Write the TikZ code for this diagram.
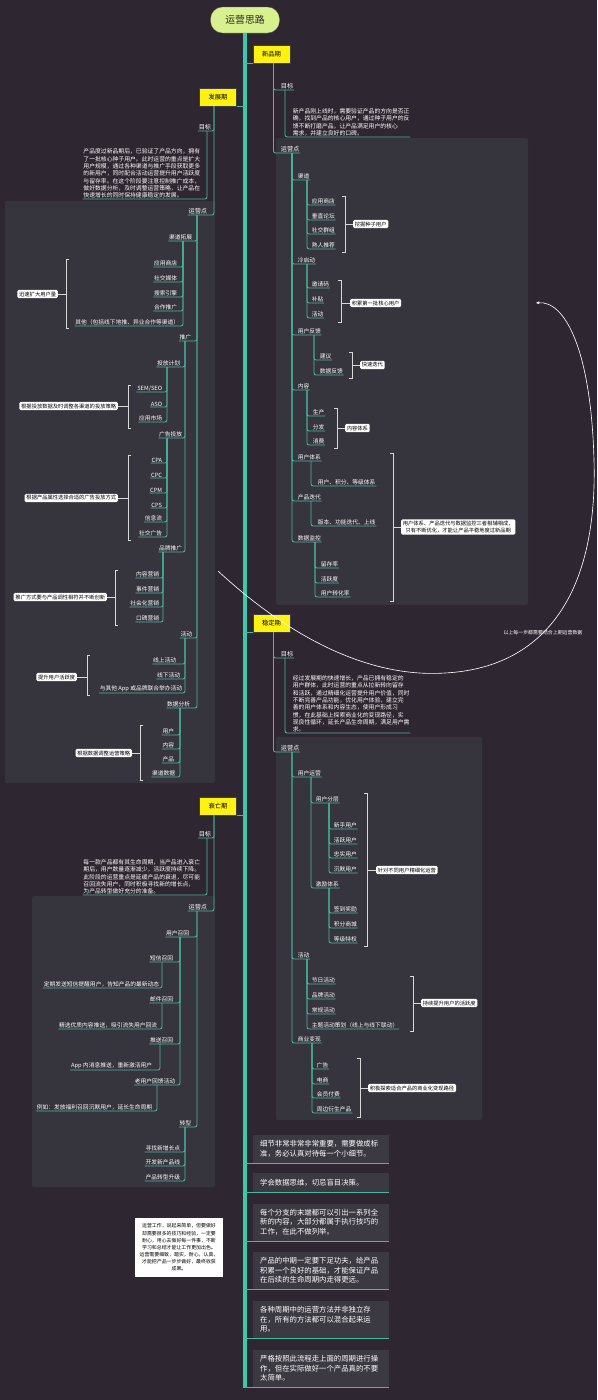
\documentclass[tikz,border=0pt]{standalone}
\usepackage{fontspec}
\setmainfont{Noto Sans CJK SC}
\usetikzlibrary{positioning,arrows.meta}
\definecolor{bgdark}{HTML}{2E2631}
\definecolor{panelgray}{HTML}{36353D}
\definecolor{notegray}{HTML}{3B3A43}
\definecolor{trunkteal}{HTML}{3DC7AB}
\definecolor{linkteal}{HTML}{48B9A1}
\definecolor{stageyellow}{HTML}{FFF212}
\definecolor{titlegreen}{HTML}{D6F18E}
\tikzset{
  stage/.style={draw=black!75, fill=stageyellow, text=black, font=\fontsize{9}{10}\selectfont, minimum width=1.85cm, minimum height=0.9cm, inner sep=1pt},
  lblr/.style={text=white, font=\fontsize{8.2}{9.5}\selectfont, inner sep=1pt, anchor=south west},
  lbll/.style={lblr, anchor=south east},
  headr/.style={lblr, font=\fontsize{8.8}{10}\selectfont},
  headl/.style={lbll, font=\fontsize{8.8}{10}\selectfont},
  parar/.style={lblr, align=left, font=\fontsize{8.3}{10.4}\selectfont},
  paral/.style={lbll, align=left, font=\fontsize{8.3}{10.4}\selectfont},
  callout/.style={fill=white, text=black, rounded corners=2pt, font=\fontsize{7.5}{9.5}\selectfont, inner sep=2.5pt, align=center},
  branch/.style={draw=linkteal, line width=1.2pt, rounded corners=3pt},
  bracket/.style={draw=white!85!black, line width=0.8pt},
  panel/.style={fill=panelgray, rounded corners=3pt},
  tipnote/.style={fill=notegray, text=white, align=left, font=\fontsize{10.5}{13}\selectfont, text width=6.1cm, inner xsep=0.35cm, inner ysep=0.3cm, anchor=south west},
  memo/.style={fill=white, text=black, align=center, font=\fontsize{7}{10.2}\selectfont, minimum width=4.4cm, minimum height=2.95cm, inner sep=2pt}
}

\begin{document}
\begin{tikzpicture}[x=0.05cm, y=-0.05cm]
  \fill[bgdark] (0,0) rectangle (597,1400);
  \useasboundingbox (0,0) rectangle (597,1400);

  \fill[panel] (276,138) rectangle (528,605);
  \fill[panel] (5,201) rectangle (215,783);
  \fill[panel] (276,737) rectangle (482,1120);
  \fill[panel] (32,896) rectangle (215,1187);

  \node[draw=black!60, fill=titlegreen, rounded corners=0.6cm, minimum width=3.45cm, minimum height=1.3cm, font=\fontsize{14}{16}\selectfont, text=black!85] (title) at (245,20) {运营思路};
  \coordinate (trunkend) at (245,1388);
  \draw[trunkteal, line width=5pt] (title.south) -- (trunkend);

  % 新品期
  \node[stage] (newp) at (271.5,54) {新品期};
  \draw[branch] (newp.south west) -- (newp.south west -| trunkend);
  \node[headr] (n1goal) at (280,90) {目标};
  \node[parar] (n1text) at (292,137) {新产品刚上线时，需要验证产品的方向是否正\\确，找到产品的核心用户，通过种子用户的反\\馈不断打磨产品，让产品满足用户的核心\\需求，并建立良好的口碑。};
  \node[headr] (n1ops) at (280,153) {运营点};
  \draw[branch] ([shift={(2,0)}]newp.south) |- (n1goal.south east);
  \draw[branch] ([shift={(2,0)}]newp.south) |- (n1ops.south east);
  \draw[branch] ([shift={(5,0)}]n1goal.south west) |- (n1text.south east);

  \node[lblr] (n1ch) at (297,180) {渠道};
  \node[lblr] (n1ch1) at (311,205) {应用商店};
  \node[lblr] (n1ch2) at (311,220) {垂直论坛};
  \node[lblr] (n1ch3) at (311,234) {社交群组};
  \node[lblr] (n1ch4) at (311,249) {熟人推荐};
  \node[callout, anchor=west] (n1chk) at (353,224) {挖掘种子用户};
  \draw[branch] ([shift={(12,0)}]n1ops.south west) |- (n1ch.south east);
  \draw[branch] ([shift={(10,0)}]n1ch.south west) |- (n1ch1.south east);
  \draw[branch] ([shift={(10,0)}]n1ch.south west) |- (n1ch2.south east);
  \draw[branch] ([shift={(10,0)}]n1ch.south west) |- (n1ch3.south east);
  \draw[branch] ([shift={(10,0)}]n1ch.south west) |- (n1ch4.south east);
  \draw[bracket] (342,196) -- (345,196) -- (345,252) -- (342,252);
  \draw[bracket] (345,224) -- (n1chk.west);

  \node[lblr] (n1cold) at (297,264) {冷启动};
  \node[lblr] (n1cold1) at (311,288) {邀请码};
  \node[lblr] (n1cold2) at (311,303) {补贴};
  \node[lblr] (n1cold3) at (311,318) {活动};
  \node[callout, anchor=west] (n1coldk) at (350,303) {积累第一批核心用户};
  \draw[branch] ([shift={(12,0)}]n1ops.south west) |- (n1cold.south east);
  \draw[branch] ([shift={(10,0)}]n1cold.south west) |- (n1cold1.south east);
  \draw[branch] ([shift={(10,0)}]n1cold.south west) |- (n1cold2.south east);
  \draw[branch] ([shift={(10,0)}]n1cold.south west) |- (n1cold3.south east);
  \draw[bracket] (338,280) -- (341,280) -- (341,322) -- (338,322);
  \draw[bracket] (341,303) -- (n1coldk.west);

  \node[lblr] (n1fb) at (297,335) {用户反馈};
  \node[lblr] (n1fb1) at (319,360) {建议};
  \node[lblr] (n1fb2) at (319,375) {数据反馈};
  \node[callout, anchor=west] (n1fbk) at (360,365) {快速迭代};
  \draw[branch] ([shift={(12,0)}]n1ops.south west) |- (n1fb.south east);
  \draw[branch] ([shift={(17,0)}]n1fb.south west) |- (n1fb1.south east);
  \draw[branch] ([shift={(17,0)}]n1fb.south west) |- (n1fb2.south east);
  \draw[bracket] (349,352) -- (352,352) -- (352,378) -- (349,378);
  \draw[bracket] (352,365) -- (n1fbk.west);

  \node[lblr] (n1ct) at (297,390) {内容};
  \node[lblr] (n1ct1) at (312,416) {生产};
  \node[lblr] (n1ct2) at (312,431) {分发};
  \node[lblr] (n1ct3) at (312,445) {消费};
  \node[callout, anchor=west] (n1ctk) at (345,428) {内容体系};
  \draw[branch] ([shift={(12,0)}]n1ops.south west) |- (n1ct.south east);
  \draw[branch] ([shift={(10,0)}]n1ct.south west) |- (n1ct1.south east);
  \draw[branch] ([shift={(10,0)}]n1ct.south west) |- (n1ct2.south east);
  \draw[branch] ([shift={(10,0)}]n1ct.south west) |- (n1ct3.south east);
  \draw[bracket] (334,408) -- (337,408) -- (337,448) -- (334,448);
  \draw[bracket] (337,428) -- (n1ctk.west);

  \node[lblr] (n1sys) at (297,461) {用户体系};
  \node[lblr] (n1sys1) at (317,486) {用户、积分、等级体系};
  \draw[branch] ([shift={(12,0)}]n1ops.south west) |- (n1sys.south east);
  \draw[branch] ([shift={(14,0)}]n1sys.south west) |- (n1sys1.south east);

  \node[lblr] (n1it) at (297,501) {产品迭代};
  \node[lblr] (n1it1) at (317,526) {版本、功能迭代、上线};
  \draw[branch] ([shift={(12,0)}]n1ops.south west) |- (n1it.south east);
  \draw[branch] ([shift={(14,0)}]n1it.south west) |- (n1it1.south east);

  \node[lblr] (n1dm) at (297,542) {数据监控};
  \node[lblr] (n1dm1) at (320,568) {留存率};
  \node[lblr] (n1dm2) at (320,583) {活跃度};
  \node[lblr] (n1dm3) at (320,597) {用户转化率};
  \draw[branch] ([shift={(12,0)}]n1ops.south west) |- (n1dm.south east);
  \draw[branch] ([shift={(18,0)}]n1dm.south west) |- (n1dm1.south east);
  \draw[branch] ([shift={(18,0)}]n1dm.south west) |- (n1dm2.south east);
  \draw[branch] ([shift={(18,0)}]n1dm.south west) |- (n1dm3.south east);

  \node[callout, anchor=west] (n1bigk) at (401,527) {用户体系、产品迭代与数据监控三者相辅相成，\\只有不断优化，才能让产品平稳地度过新品期};
  \draw[bracket] (390,453) -- (393,453) -- (393,601) -- (390,601);
  \draw[bracket] (393,527) -- (n1bigk.west);

  % 发展期
  \node[stage] (grow) at (218,97) {发展期};
  \draw[branch] (grow.south east) -- (grow.south east -| trunkend);
  \node[headl] (n2goal) at (212,131) {目标};
  \node[paral] (n2text) at (201,199) {产品度过新品期后，已验证了产品方向，拥有\\了一批核心种子用户。此时运营的重点是扩大\\用户规模，通过各种渠道与推广手段获取更多\\的新用户，同时配合活动运营提升用户活跃度\\与留存率。在这个阶段要注意控制推广成本，\\做好数据分析，及时调整运营策略，让产品在\\快速增长的同时保持健康稳定的发展。};
  \node[headl] (n2ops) at (208,215) {运营点};
  \draw[branch] ([shift={(-4,0)}]grow.south) |- (n2goal.south west);
  \draw[branch] ([shift={(-4,0)}]grow.south) |- (n2ops.south west);
  \draw[branch] ([shift={(-5,0)}]n2goal.south east) |- (n2text.south west);

  \node[lbll] (n2ch) at (193,241) {渠道拓展};
  \node[lbll] (n2ch1) at (178,267) {应用商店};
  \node[lbll] (n2ch2) at (178,282) {社交媒体};
  \node[lbll] (n2ch3) at (178,297) {搜索引擎};
  \node[lbll] (n2ch4) at (178,311) {合作推广};
  \node[lbll] (n2ch5) at (180,326) {其他（包括线下地推、异业合作等渠道）};
  \node[callout, anchor=east] (n2chk) at (58,294) {迅速扩大用户量};
  \draw[branch] ([shift={(-11,0)}]n2ops.south east) |- (n2ch.south west);
  \draw[branch] ([shift={(-10,0)}]n2ch.south east) |- (n2ch1.south west);
  \draw[branch] ([shift={(-10,0)}]n2ch.south east) |- (n2ch2.south west);
  \draw[branch] ([shift={(-10,0)}]n2ch.south east) |- (n2ch3.south west);
  \draw[branch] ([shift={(-10,0)}]n2ch.south east) |- (n2ch4.south west);
  \draw[branch] ([shift={(-10,0)}]n2ch.south east) |- (n2ch5.south west);
  \draw[bracket] (69,259) -- (66,259) -- (66,328) -- (69,328);
  \draw[bracket] (66,294) -- (n2chk.east);

  \node[lbll] (n2pro) at (192,341) {推广};
  \draw[branch] ([shift={(-11,0)}]n2ops.south east) |- (n2pro.south west);
  \node[lbll] (n2plan) at (181,367) {投放计划};
  \node[lbll] (n2plan1) at (163,392) {SEM/SEO};
  \node[lbll] (n2plan2) at (163,407) {ASO};
  \node[lbll] (n2plan3) at (163,422) {应用市场};
  \node[callout, anchor=east] (n2plank) at (118,406) {根据投放数据及时调整各渠道的投放策略};
  \draw[branch] ([shift={(-7,0)}]n2pro.south east) |- (n2plan.south west);
  \draw[branch] ([shift={(-14,0)}]n2plan.south east) |- (n2plan1.south west);
  \draw[branch] ([shift={(-14,0)}]n2plan.south east) |- (n2plan2.south west);
  \draw[branch] ([shift={(-14,0)}]n2plan.south east) |- (n2plan3.south west);
  \draw[bracket] (131,385) -- (128,385) -- (128,428) -- (131,428);
  \draw[bracket] (128,406) -- (n2plank.east);

  \node[lbll] (n2ad) at (183,438) {广告投放};
  \node[lbll] (n2ad1) at (163,463) {CPA};
  \node[lbll] (n2ad2) at (163,478) {CPC};
  \node[lbll] (n2ad3) at (163,493) {CPM};
  \node[lbll] (n2ad4) at (163,508) {CPS};
  \node[lbll] (n2ad5) at (163,522) {信息流};
  \node[lbll] (n2ad6) at (163,537) {社交广告};
  \node[callout, anchor=east] (n2adk) at (118,498) {根据产品属性选择合适的广告投放方式};
  \draw[branch] ([shift={(-7,0)}]n2pro.south east) |- (n2ad.south west);
  \draw[branch] ([shift={(-16,0)}]n2ad.south east) |- (n2ad1.south west);
  \draw[branch] ([shift={(-16,0)}]n2ad.south east) |- (n2ad2.south west);
  \draw[branch] ([shift={(-16,0)}]n2ad.south east) |- (n2ad3.south west);
  \draw[branch] ([shift={(-16,0)}]n2ad.south east) |- (n2ad4.south west);
  \draw[branch] ([shift={(-16,0)}]n2ad.south east) |- (n2ad5.south west);
  \draw[branch] ([shift={(-16,0)}]n2ad.south east) |- (n2ad6.south west);
  \draw[bracket] (131,455) -- (128,455) -- (128,540) -- (131,540);
  \draw[bracket] (128,498) -- (n2adk.east);

  \node[lbll] (n2brand) at (183,552) {品牌推广};
  \node[lbll] (n2brand1) at (160,578) {内容营销};
  \node[lbll] (n2brand2) at (160,593) {事件营销};
  \node[lbll] (n2brand3) at (160,607) {社会化营销};
  \node[lbll] (n2brand4) at (160,622) {口碑营销};
  \node[callout, anchor=east] (n2brandk) at (107,597) {推广方式要与产品调性相符并不断创新};
  \draw[branch] ([shift={(-7,0)}]n2pro.south east) |- (n2brand.south west);
  \draw[branch] ([shift={(-20,0)}]n2brand.south east) |- (n2brand1.south west);
  \draw[branch] ([shift={(-20,0)}]n2brand.south east) |- (n2brand2.south west);
  \draw[branch] ([shift={(-20,0)}]n2brand.south east) |- (n2brand3.south west);
  \draw[branch] ([shift={(-20,0)}]n2brand.south east) |- (n2brand4.south west);
  \draw[bracket] (118,570) -- (115,570) -- (115,625) -- (118,625);
  \draw[bracket] (115,597) -- (n2brandk.east);

  \node[lbll] (n2act) at (193,638) {活动};
  \node[lbll] (n2act1) at (177,664) {线上活动};
  \node[lbll] (n2act2) at (181,679) {线下活动};
  \node[lbll] (n2act3) at (183,693) {与其他 App 或品牌联合举办活动};
  \node[callout, anchor=east] (n2actk) at (77,677) {提升用户活跃度};
  \draw[branch] ([shift={(-11,0)}]n2ops.south east) |- (n2act.south west);
  \draw[branch] ([shift={(-8,0)}]n2act.south east) |- (n2act1.south west);
  \draw[branch] ([shift={(-8,0)}]n2act.south east) |- (n2act2.south west);
  \draw[branch] ([shift={(-8,0)}]n2act.south east) |- (n2act3.south west);
  \draw[bracket] (90,655) -- (87,655) -- (87,695) -- (90,695);
  \draw[bracket] (87,677) -- (n2actk.east);

  \node[lbll] (n2data) at (191,708) {数据分析};
  \node[lbll] (n2data1) at (175,735) {用户};
  \node[lbll] (n2data2) at (175,749) {内容};
  \node[lbll] (n2data3) at (175,763) {产品};
  \node[lbll] (n2data4) at (176,777) {渠道数据};
  \node[callout, anchor=east] (n2datak) at (132,753) {根据数据调整运营策略};
  \draw[branch] ([shift={(-11,0)}]n2ops.south east) |- (n2data.south west);
  \draw[branch] ([shift={(-11,0)}]n2data.south east) |- (n2data1.south west);
  \draw[branch] ([shift={(-11,0)}]n2data.south east) |- (n2data2.south west);
  \draw[branch] ([shift={(-11,0)}]n2data.south east) |- (n2data3.south west);
  \draw[branch] ([shift={(-11,0)}]n2data.south east) |- (n2data4.south west);
  \draw[bracket] (143,725) -- (140,725) -- (140,780) -- (143,780);
  \draw[bracket] (140,753) -- (n2datak.east);

  % 稳定期
  \node[stage] (stab) at (271.5,623) {稳定期};
  \draw[branch] (stab.south west) -- (stab.south west -| trunkend);
  \node[headr] (n3goal) at (280,658) {目标};
  \node[parar] (n3text) at (292,733) {经过发展期的快速增长，产品已拥有稳定的\\用户群体，此时运营的重点从拉新转向留存\\和活跃，通过精细化运营提升用户价值，同时\\不断完善产品功能，优化用户体验，建立完\\善的用户体系和内容生态，使用户形成习\\惯，在此基础上探索商业化的变现路径，实\\现良性循环，延长产品生命周期，满足用户需\\求。};
  \node[headr] (n3ops) at (280,752) {运营点};
  \draw[branch] ([shift={(2,0)}]stab.south) |- (n3goal.south east);
  \draw[branch] ([shift={(2,0)}]stab.south) |- (n3ops.south east);
  \draw[branch] ([shift={(5,0)}]n3goal.south west) |- (n3text.south east);

  \node[lblr] (n3usr) at (297,777) {用户运营};
  \node[lblr] (n3lay) at (315,803) {用户分层};
  \node[lblr] (n3lay1) at (333,829) {新手用户};
  \node[lblr] (n3lay2) at (333,844) {活跃用户};
  \node[lblr] (n3lay3) at (333,858) {忠实用户};
  \node[lblr] (n3lay4) at (333,873) {沉默用户};
  \node[lblr] (n3inc) at (315,888) {激励体系};
  \node[lblr] (n3inc1) at (333,913) {签到奖励};
  \node[lblr] (n3inc2) at (333,928) {积分商城};
  \node[lblr] (n3inc3) at (333,943) {等级特权};
  \node[callout, anchor=west] (n3usrk) at (376,870) {针对不同用户精细化运营};
  \draw[branch] ([shift={(12,0)}]n3ops.south west) |- (n3usr.south east);
  \draw[branch] ([shift={(14,0)}]n3usr.south west) |- (n3lay.south east);
  \draw[branch] ([shift={(14,0)}]n3usr.south west) |- (n3inc.south east);
  \draw[branch] ([shift={(14,0)}]n3lay.south west) |- (n3lay1.south east);
  \draw[branch] ([shift={(14,0)}]n3lay.south west) |- (n3lay2.south east);
  \draw[branch] ([shift={(14,0)}]n3lay.south west) |- (n3lay3.south east);
  \draw[branch] ([shift={(14,0)}]n3lay.south west) |- (n3lay4.south east);
  \draw[branch] ([shift={(14,0)}]n3inc.south west) |- (n3inc1.south east);
  \draw[branch] ([shift={(14,0)}]n3inc.south west) |- (n3inc2.south east);
  \draw[branch] ([shift={(14,0)}]n3inc.south west) |- (n3inc3.south east);
  \draw[bracket] (364,793) -- (367,793) -- (367,946) -- (364,946);
  \draw[bracket] (367,870) -- (n3usrk.west);

  \node[lblr] (n3act) at (297,959) {活动};
  \node[lblr] (n3act1) at (311,984) {节日活动};
  \node[lblr] (n3act2) at (311,999) {品牌活动};
  \node[lblr] (n3act3) at (311,1014) {常规活动};
  \node[lblr] (n3act4) at (311,1029) {主题活动策划（线上与线下联动）};
  \node[callout, anchor=west] (n3actk) at (421,1003) {持续提升用户的活跃度};
  \draw[branch] ([shift={(12,0)}]n3ops.south west) |- (n3act.south east);
  \draw[branch] ([shift={(10,0)}]n3act.south west) |- (n3act1.south east);
  \draw[branch] ([shift={(10,0)}]n3act.south west) |- (n3act2.south east);
  \draw[branch] ([shift={(10,0)}]n3act.south west) |- (n3act3.south east);
  \draw[branch] ([shift={(10,0)}]n3act.south west) |- (n3act4.south east);
  \draw[bracket] (410,976) -- (413,976) -- (413,1031) -- (410,1031);
  \draw[bracket] (413,1003) -- (n3actk.west);

  \node[lblr] (n3biz) at (297,1043) {商业变现};
  \node[lblr] (n3biz1) at (316,1069) {广告};
  \node[lblr] (n3biz2) at (316,1084) {电商};
  \node[lblr] (n3biz3) at (316,1098) {会员付费};
  \node[lblr] (n3biz4) at (316,1113) {周边衍生产品};
  \node[callout, anchor=west] (n3bizk) at (368,1088) {积极探索适合产品的商业化变现路径};
  \draw[branch] ([shift={(12,0)}]n3ops.south west) |- (n3biz.south east);
  \draw[branch] ([shift={(15,0)}]n3biz.south west) |- (n3biz1.south east);
  \draw[branch] ([shift={(15,0)}]n3biz.south west) |- (n3biz2.south east);
  \draw[branch] ([shift={(15,0)}]n3biz.south west) |- (n3biz3.south east);
  \draw[branch] ([shift={(15,0)}]n3biz.south west) |- (n3biz4.south east);
  \draw[bracket] (357,1058) -- (360,1058) -- (360,1117) -- (357,1117);
  \draw[bracket] (360,1088) -- (n3bizk.west);

  % 衰亡期
  \node[stage] (fade) at (218,806) {衰亡期};
  \draw[branch] (fade.south east) -- (fade.south east -| trunkend);
  \node[headl] (n4goal) at (212,838) {目标};
  \node[paral] (n4text) at (201,895) {每一款产品都有其生命周期，当产品进入衰亡\\期后，用户数量逐渐减少，活跃度持续下降。\\此阶段的运营重点是延缓产品的衰退，尽可能\\召回流失用户，同时积极寻找新的增长点，\\为产品转型做好充分的准备。};
  \node[headl] (n4ops) at (208,911) {运营点};
  \draw[branch] ([shift={(-4,0)}]fade.south) |- (n4goal.south west);
  \draw[branch] ([shift={(-4,0)}]fade.south) |- (n4ops.south west);
  \draw[branch] ([shift={(-5,0)}]n4goal.south east) |- (n4text.south west);

  \node[lbll] (n4back) at (190,937) {用户召回};
  \node[lbll] (n4b1) at (174,962) {短信召回};
  \node[lbll] (n4b1a) at (160,988) {定期发送短信提醒用户，告知产品的最新动态};
  \node[lbll] (n4b2) at (174,1003) {邮件召回};
  \node[lbll] (n4b2a) at (158,1029) {精选优质内容推送，吸引流失用户回流};
  \node[lbll] (n4b3) at (174,1044) {推送召回};
  \node[lbll] (n4b3a) at (153,1070) {App 内消息推送，重新激活用户};
  \node[lbll] (n4b4) at (176,1085) {老用户回馈活动};
  \node[lbll] (n4b4a) at (153,1111) {例如：发放福利召回沉默用户，延长生命周期};
  \draw[branch] ([shift={(-11,0)}]n4ops.south east) |- (n4back.south west);
  \draw[branch] ([shift={(-10,0)}]n4back.south east) |- (n4b1.south west);
  \draw[branch] ([shift={(-10,0)}]n4back.south east) |- (n4b2.south west);
  \draw[branch] ([shift={(-10,0)}]n4back.south east) |- (n4b3.south west);
  \draw[branch] ([shift={(-10,0)}]n4back.south east) |- (n4b4.south west);
  \draw[branch] ([shift={(-12,0)}]n4b1.south east) |- (n4b1a.south west);
  \draw[branch] ([shift={(-12,0)}]n4b2.south east) |- (n4b2a.south west);
  \draw[branch] ([shift={(-14,0)}]n4b3.south east) |- (n4b3a.south west);
  \draw[branch] ([shift={(-19,0)}]n4b4.south east) |- (n4b4a.south west);

  \node[lbll] (n4turn) at (192,1127) {转型};
  \node[lbll] (n4turn1) at (181,1152) {寻找新增长点};
  \node[lbll] (n4turn2) at (181,1166) {开发新产品线};
  \node[lbll] (n4turn3) at (181,1181) {产品转型升级};
  \draw[branch] ([shift={(-11,0)}]n4ops.south east) |- (n4turn.south west);
  \draw[branch] ([shift={(-7,0)}]n4turn.south east) |- (n4turn1.south west);
  \draw[branch] ([shift={(-7,0)}]n4turn.south east) |- (n4turn2.south west);
  \draw[branch] ([shift={(-7,0)}]n4turn.south east) |- (n4turn3.south west);

  % 总结
  \node[tipnote] (tip1) at (253,1163) {细节非常非常非常重要，需要做成标\\准，务必认真对待每一个小细节。};
  \node[tipnote] (tip2) at (253,1192) {学会数据思维，切忌盲目决策。};
  \node[tipnote] (tip3) at (253,1241) {每个分支的末端都可以引出一系列全\\新的内容，大部分都属于执行技巧的\\工作，在此不做列举。};
  \node[tipnote] (tip4) at (253,1289) {产品的中期一定要下足功夫，给产品\\积累一个良好的基础，才能保证产品\\在后续的生命周期内走得更远。};
  \node[tipnote] (tip5) at (253,1338) {各种周期中的运营方法并非独立存\\在，所有的方法都可以混合起来运\\用。};
  \node[tipnote] (tip6) at (253,1387) {严格按照此流程走上面的周期进行操\\作，但在实际做好一个产品真的不要\\太简单。};
  \draw[branch] (tip1.south east) -- (tip1.south east -| trunkend);
  \draw[branch] (tip2.south east) -- (tip2.south east -| trunkend);
  \draw[branch] (tip3.south east) -- (tip3.south east -| trunkend);
  \draw[branch] (tip4.south east) -- (tip4.south east -| trunkend);
  \draw[branch] (tip5.south east) -- (tip5.south east -| trunkend);
  \draw[branch] (tip6.south east) -- (tip6.south east -| trunkend);

  \node[memo] (memo) at (179,1247.5) {运营工作，说起来简单，但要做好\\却需要很多的技巧和经验，一定要\\耐心，用心去做好每一件事，不断\\学习和总结才能让工作更加出色。\\运营需要细致，踏实，耐心，认真，\\才能把产品一步步做好，最终收获\\成果。};

  \coordinate (loopstart) at (218,571);
  \coordinate (loopend) at (536,303);
  \draw[white, line width=0.9pt, -{Stealth[length=5pt,width=4pt]}] (loopstart) .. controls (320,665) and (400,676) .. (445,673) .. controls (540,668) and (598,600) .. (594,460) .. controls (591,350) and (565,300) .. (loopend);
  \node[text=white, font=\fontsize{7}{8}\selectfont, inner sep=1pt] (looplbl) at (543,633) {以上每一步都需要结合上期运营数据};
\end{tikzpicture}
\end{document}
